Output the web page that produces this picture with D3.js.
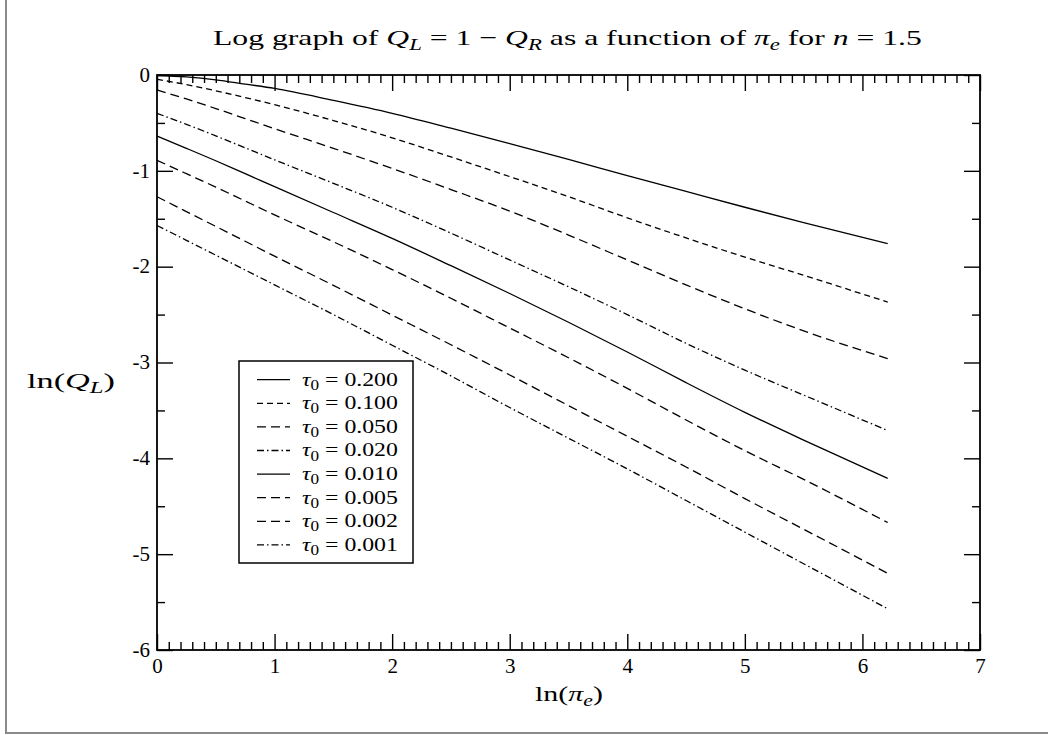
<!DOCTYPE html>
<html><head><meta charset="utf-8">
<script src="https://cdn.jsdelivr.net/npm/d3@7"></script>
<style>
body{margin:0;background:#fff}
svg{display:block}
</style>
</head><body>
<svg id="c" width="1048" height="735"></svg>
<script>
// x values: ln(pi_e)
const lnPi = [0, 0.25, 0.5, 0.75, 1, 1.5, 2, 2.5, 3, 3.5, 4, 4.5, 5, 5.5, 6.215];

// ln(Q_L) for each tau0
const tau0_200 = [-0.005, -0.02, -0.05, -0.095, -0.14, -0.265, -0.40, -0.555, -0.715, -0.88, -1.05, -1.215, -1.38, -1.54, -1.76];
const tau0_100 = [-0.045, -0.10, -0.165, -0.235, -0.31, -0.475, -0.655, -0.855, -1.06, -1.27, -1.49, -1.70, -1.90, -2.09, -2.37];
const tau0_050 = [-0.157, -0.25, -0.35, -0.455, -0.56, -0.765, -0.975, -1.195, -1.42, -1.67, -1.93, -2.19, -2.44, -2.67, -2.96];
const tau0_020 = [-0.40, -0.515, -0.635, -0.76, -0.885, -1.13, -1.38, -1.65, -1.93, -2.21, -2.50, -2.80, -3.08, -3.34, -3.71];
const tau0_010 = [-0.637, -0.765, -0.895, -1.03, -1.165, -1.435, -1.705, -1.99, -2.28, -2.58, -2.89, -3.21, -3.52, -3.81, -4.21];
const tau0_005 = [-0.89, -1.03, -1.17, -1.315, -1.46, -1.74, -2.03, -2.33, -2.64, -2.95, -3.27, -3.60, -3.92, -4.22, -4.67];
const tau0_002 = [-1.27, -1.425, -1.58, -1.735, -1.89, -2.195, -2.505, -2.815, -3.13, -3.45, -3.77, -4.09, -4.42, -4.74, -5.20];
const tau0_001 = [-1.57, -1.725, -1.88, -2.035, -2.19, -2.50, -2.82, -3.14, -3.47, -3.79, -4.11, -4.44, -4.77, -5.10, -5.57];

const tauLabels = ["0.200","0.100","0.050","0.020","0.010","0.005","0.002","0.001"];
const seriesValues = [tau0_200, tau0_100, tau0_050, tau0_020, tau0_010, tau0_005, tau0_002, tau0_001];
const dashStyles = [null, "6,4", "9,5", "7,3,1.5,3", null, "9,5", "9,5", "7,3,1.5,3"];

const xTicks = [0,1,2,3,4,5,6,7];
const yTicks = [0,-1,-2,-3,-4,-5,-6];

const FONT = '"Liberation Serif", "Times New Roman", serif';
const svg = d3.select("#c");
const L = 157, R = 980, T = 75, B = 650;
const x = d3.scaleLinear().domain([0,7]).range([L,R]);
const y = d3.scaleLinear().domain([0,-6]).range([T,B]);

// outer grey border
svg.append("path").attr("d", `M6,0 V733 H1048`).attr("fill","none")
  .attr("stroke","#8a8a8a").attr("stroke-width",2);

// data lines
const line = d3.line().x(d=>x(d[0])).y(d=>y(d[1])).curve(d3.curveMonotoneX);
seriesValues.forEach((vals,i)=>{
  svg.append("path").datum(lnPi.map((v,j)=>[v, vals[j]]))
    .attr("d", line).attr("fill","none").attr("stroke","#000")
    .attr("stroke-width",1.3)
    .attr("stroke-dasharray", dashStyles[i]);
});

// axes (ticks inward)
const xMinor = d3.range(0, 70.5).map(v=>v/10).filter(v=>Math.abs(v-Math.round(v))>1e-6);
const yMinor = d3.range(0, 13).map(v=>-v/2).filter(v=>Math.abs(v-Math.round(v))>1e-6);
function axisG(axis, tx, ty){ const g = svg.append("g").attr("transform",`translate(${tx},${ty})`).call(axis); g.select(".domain").remove(); g.selectAll("line").attr("stroke","#000").attr("stroke-width",1.4); return g; }
// bottom
const gxb = axisG(d3.axisBottom(x).tickValues(xTicks).tickSize(-16).tickFormat(d3.format("d")), 0, B);
gxb.selectAll("text").attr("font-size",21).style("font-family",FONT).attr("fill","#000").attr("dy",0).attr("y",23);
axisG(d3.axisBottom(x).tickValues(xMinor).tickSize(-8).tickFormat(""), 0, B);
// top
axisG(d3.axisTop(x).tickValues(xTicks).tickSize(-16).tickFormat(""), 0, T);
axisG(d3.axisTop(x).tickValues(xMinor).tickSize(-8).tickFormat(""), 0, T);
// left
const gyl = axisG(d3.axisLeft(y).tickValues(yTicks).tickSize(-16).tickFormat(d=>d===0?"0":"-"+Math.abs(d)), L, 0);
gyl.selectAll("text").attr("font-size",21).style("font-family",FONT).attr("fill","#000").attr("x",-7).attr("dy","0.3em");
axisG(d3.axisLeft(y).tickValues(yMinor).tickSize(-8).tickFormat(""), L, 0);
// right
axisG(d3.axisRight(y).tickValues(yTicks).tickSize(-16).tickFormat(""), R, 0);
axisG(d3.axisRight(y).tickValues(yMinor).tickSize(-8).tickFormat(""), R, 0);

// frame
svg.append("rect").attr("x",L).attr("y",T).attr("width",R-L).attr("height",B-T)
  .attr("fill","none").attr("stroke","#000").attr("stroke-width",1.8);

function fit(sel, x0, x1){
  const bb = sel.node().getBBox();
  const k = (x1-x0)/bb.width;
  sel.attr("transform",`translate(${x0},0) scale(${k},1) translate(${-bb.x},0)`);
}
function mathText(parent, parts, baseY, size){
  const t = parent.append("text").attr("x",0).attr("y",baseY).attr("font-size",size)
    .style("font-family",FONT).attr("fill","#000");
  parts.forEach(p=>{
    const ts = t.append("tspan").text(p.t);
    if(p.i) ts.attr("font-style","italic");
    if(p.sub){ ts.attr("font-size", size*0.72).attr("dy", size*0.22); }
    if(p.up){ ts.attr("dy", -size*0.22); }
  });
  return t;
}

// title
const title = mathText(svg, [
  {t:"Log graph of "},{t:"Q",i:1},{t:"L",i:1,sub:1},{t:" = 1 − ",up:1},{t:"Q",i:1},{t:"R",i:1,sub:1},
  {t:" as a function of ",up:1},{t:"π",i:1},{t:"e",i:1,sub:1},{t:" for ",up:1},{t:"n",i:1},{t:" = 1.5"}
], 45, 22);
fit(title, 213, 922);

// y label
const ylab = mathText(svg, [{t:"ln("},{t:"Q",i:1},{t:"L",i:1,sub:1},{t:")",up:1}], 388, 22);
fit(ylab, 27, 115);

// x label
const xlab = mathText(svg, [{t:"ln("},{t:"π",i:1},{t:"e",i:1,sub:1},{t:")",up:1}], 701, 22);
fit(xlab, 535, 603);

// legend
const legX0 = 239, legX1 = 413, legTop = 361, legBot = 563;
svg.append("rect").attr("x",legX0).attr("y",legTop).attr("width",legX1-legX0).attr("height",legBot-legTop)
  .attr("fill","#fff").attr("stroke","#000").attr("stroke-width",1.5);
tauLabels.forEach((lab,i)=>{
  const cy = 379.7 + i*23.6;
  svg.append("line").attr("x1",257).attr("x2",290).attr("y1",cy).attr("y2",cy)
    .attr("stroke","#000").attr("stroke-width",1.3).attr("stroke-dasharray",dashStyles[i]);
  const t = mathText(svg, [{t:"τ",i:1},{t:"0",sub:1},{t:" = "+lab,up:1}], cy+6, 19);
  fit(t, 302, 398);
});
</script>
</body></html>
